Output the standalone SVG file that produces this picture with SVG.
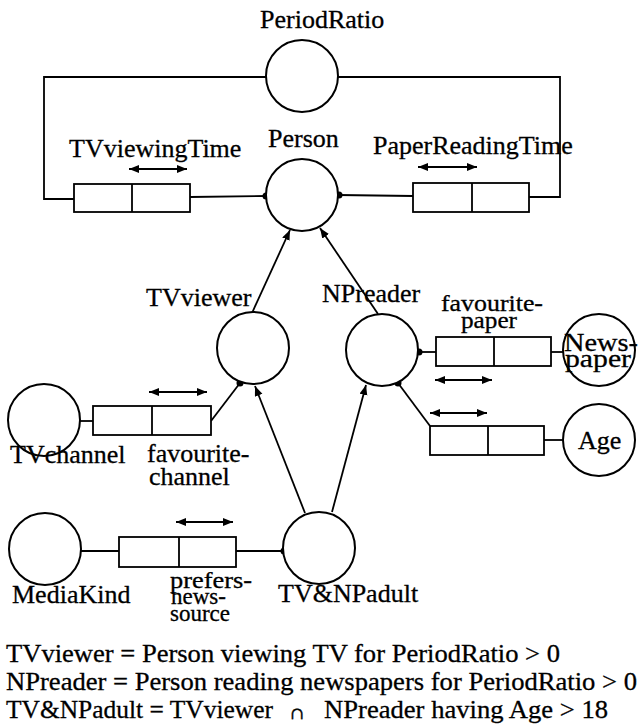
<svg xmlns="http://www.w3.org/2000/svg" width="639" height="726" viewBox="0 0 639 726" font-family="'Liberation Serif', 'Times New Roman', serif">
<defs>
<marker id="ah" markerUnits="userSpaceOnUse" markerWidth="12" markerHeight="10" refX="10" refY="4" orient="auto-start-reverse">
<path d="M0,0 L10,4 L0,8 z" fill="#000"/>
</marker>
<style>
.c{fill:#fff;stroke:#000;stroke-width:2}
.b{fill:#fff;stroke:#000;stroke-width:1.8}
.l{fill:none;stroke:#000;stroke-width:1.8}
.a{fill:none;stroke:#000;stroke-width:1.8;marker-end:url(#ah)}
.d{fill:none;stroke:#000;stroke-width:1.8;marker-start:url(#ah);marker-end:url(#ah)}
.dot{fill:#000}
.t{font-family:'Liberation Serif','Times New Roman',serif;font-size:26px;fill:#000;stroke:#000;stroke-width:0.3}
.s{font-family:'Liberation Serif','Times New Roman',serif;font-size:23px;fill:#000;stroke:#000;stroke-width:0.3}
</style>
</defs>
<rect width="639" height="726" fill="#fff"/>

<g id="connectors">
<polyline class="l" points="266,77 44,77 44,199 74,199"/>
<polyline class="l" points="338,77 560,77 560,197 529,197"/>
<line class="l" x1="190" y1="197" x2="266" y2="196"/>
<line class="l" x1="338" y1="195" x2="413" y2="196"/>
<circle class="dot" cx="266" cy="196" r="3.5"/>
<circle class="dot" cx="339" cy="195" r="3.5"/>
<line class="d" x1="129" y1="169" x2="187" y2="169"/>
<line class="d" x1="418" y1="167" x2="477" y2="167"/>
<line class="a" x1="252" y1="313" x2="290" y2="230"/>
<line class="a" x1="378" y1="314" x2="320" y2="228"/>
<line class="a" x1="305" y1="513" x2="255" y2="386"/>
<line class="a" x1="332" y1="512" x2="366" y2="385"/>
<line class="l" x1="80" y1="421" x2="93" y2="421"/>
<line class="l" x1="211" y1="421" x2="240" y2="383"/>
<circle class="dot" cx="240" cy="383" r="3.5"/>
<line class="d" x1="149" y1="392" x2="207" y2="392"/>
<line class="l" x1="418" y1="352" x2="436" y2="352"/>
<circle class="dot" cx="419" cy="352" r="3.5"/>
<line class="l" x1="551" y1="352" x2="563" y2="352"/>
<line class="d" x1="435" y1="380" x2="492" y2="380"/>
<line class="l" x1="430" y1="426" x2="398" y2="383"/>
<circle class="dot" cx="398" cy="383" r="3.5"/>
<line class="l" x1="544" y1="440" x2="563" y2="440"/>
<line class="d" x1="430" y1="413" x2="487" y2="413"/>
<line class="l" x1="81" y1="551" x2="119" y2="551"/>
<line class="l" x1="236" y1="551" x2="284" y2="551"/>
<circle class="dot" cx="284" cy="551" r="3.5"/>
<line class="d" x1="176" y1="522" x2="233" y2="522"/>
</g>

<g id="PeriodRatio">
<circle class="c" cx="302" cy="76" r="36"/>
<text class="t" x="260" y="28">PeriodRatio</text>
</g>
<g id="Person">
<circle class="c" cx="302" cy="195" r="36"/>
<text class="t" x="268" y="147">Person</text>
</g>
<g id="TVviewingTime">
<rect class="b" x="74" y="184" width="116" height="28"/>
<line class="l" x1="132" y1="184" x2="132" y2="212"/>
<text class="t" x="69" y="157">TVviewingTime</text>
</g>
<g id="PaperReadingTime">
<rect class="b" x="413" y="183" width="116" height="29"/>
<line class="l" x1="472" y1="183" x2="472" y2="212"/>
<text class="t" x="373" y="154">PaperReadingTime</text>
</g>
<g id="TVviewer">
<circle class="c" cx="253" cy="348" r="36"/>
<text class="t" x="146" y="306">TVviewer</text>
</g>
<g id="NPreader">
<circle class="c" cx="382" cy="350" r="36"/>
<text class="t" x="322" y="302">NPreader</text>
</g>
<g id="favourite-paper">
<rect class="b" x="436" y="337" width="115" height="29"/>
<line class="l" x1="494" y1="337" x2="494" y2="366"/>
<text class="s" x="441" y="311" textLength="102" lengthAdjust="spacingAndGlyphs">favourite-</text>
<text class="s" x="461" y="328" textLength="56" lengthAdjust="spacingAndGlyphs">paper</text>
</g>
<g id="Newspaper">
<circle class="c" cx="599" cy="350" r="36"/>
<text class="t" x="564" y="351" textLength="74" lengthAdjust="spacingAndGlyphs">News-</text>
<text class="t" x="565" y="367" textLength="66" lengthAdjust="spacingAndGlyphs">paper</text>
</g>
<g id="AgeRole">
<rect class="b" x="430" y="426" width="114" height="29"/>
<line class="l" x1="488" y1="426" x2="488" y2="455"/>
</g>
<g id="Age">
<circle class="c" cx="599" cy="440" r="36"/>
<text class="t" x="578" y="449">Age</text>
</g>
<g id="TVchannel">
<circle class="c" cx="44" cy="420" r="36"/>
<text class="t" x="10" y="463">TVchannel</text>
</g>
<g id="favourite-channel">
<rect class="b" x="93" y="406" width="118" height="29"/>
<line class="l" x1="152" y1="406" x2="152" y2="435"/>
<text class="t" x="147" y="462">favourite-</text>
<text class="t" x="149" y="485">channel</text>
</g>
<g id="MediaKind">
<circle class="c" cx="45" cy="549" r="36"/>
<text class="t" x="12" y="603">MediaKind</text>
</g>
<g id="prefers-news-source">
<rect class="b" x="119" y="537" width="117" height="30"/>
<line class="l" x1="179" y1="537" x2="179" y2="567"/>
<text class="s" x="170" y="588" textLength="82" lengthAdjust="spacingAndGlyphs">prefers-</text>
<text class="s" x="171" y="604">news-</text>
<text class="s" x="170" y="621">source</text>
</g>
<g id="TVNPadult">
<circle class="c" cx="319" cy="548" r="36"/>
<text class="t" x="278" y="602">TV&amp;NPadult</text>
</g>

<g id="definitions">
<text class="t" x="6" y="662" textLength="554" lengthAdjust="spacingAndGlyphs">TVviewer = Person viewing TV for PeriodRatio &gt; 0</text>
<text class="t" x="6" y="690" textLength="631" lengthAdjust="spacingAndGlyphs">NPreader = Person reading newspapers for PeriodRatio &gt; 0</text>
<text class="t" x="6" y="718" textLength="267" lengthAdjust="spacingAndGlyphs">TV&amp;NPadult = TVviewer</text>
<text x="290" y="719" style="font-family:'DejaVu Serif',serif;font-size:17px;stroke:#000;stroke-width:0.3">∩</text>
<text class="t" x="324" y="718" textLength="284" lengthAdjust="spacingAndGlyphs">NPreader having Age &gt; 18</text>
</g>
</svg>
